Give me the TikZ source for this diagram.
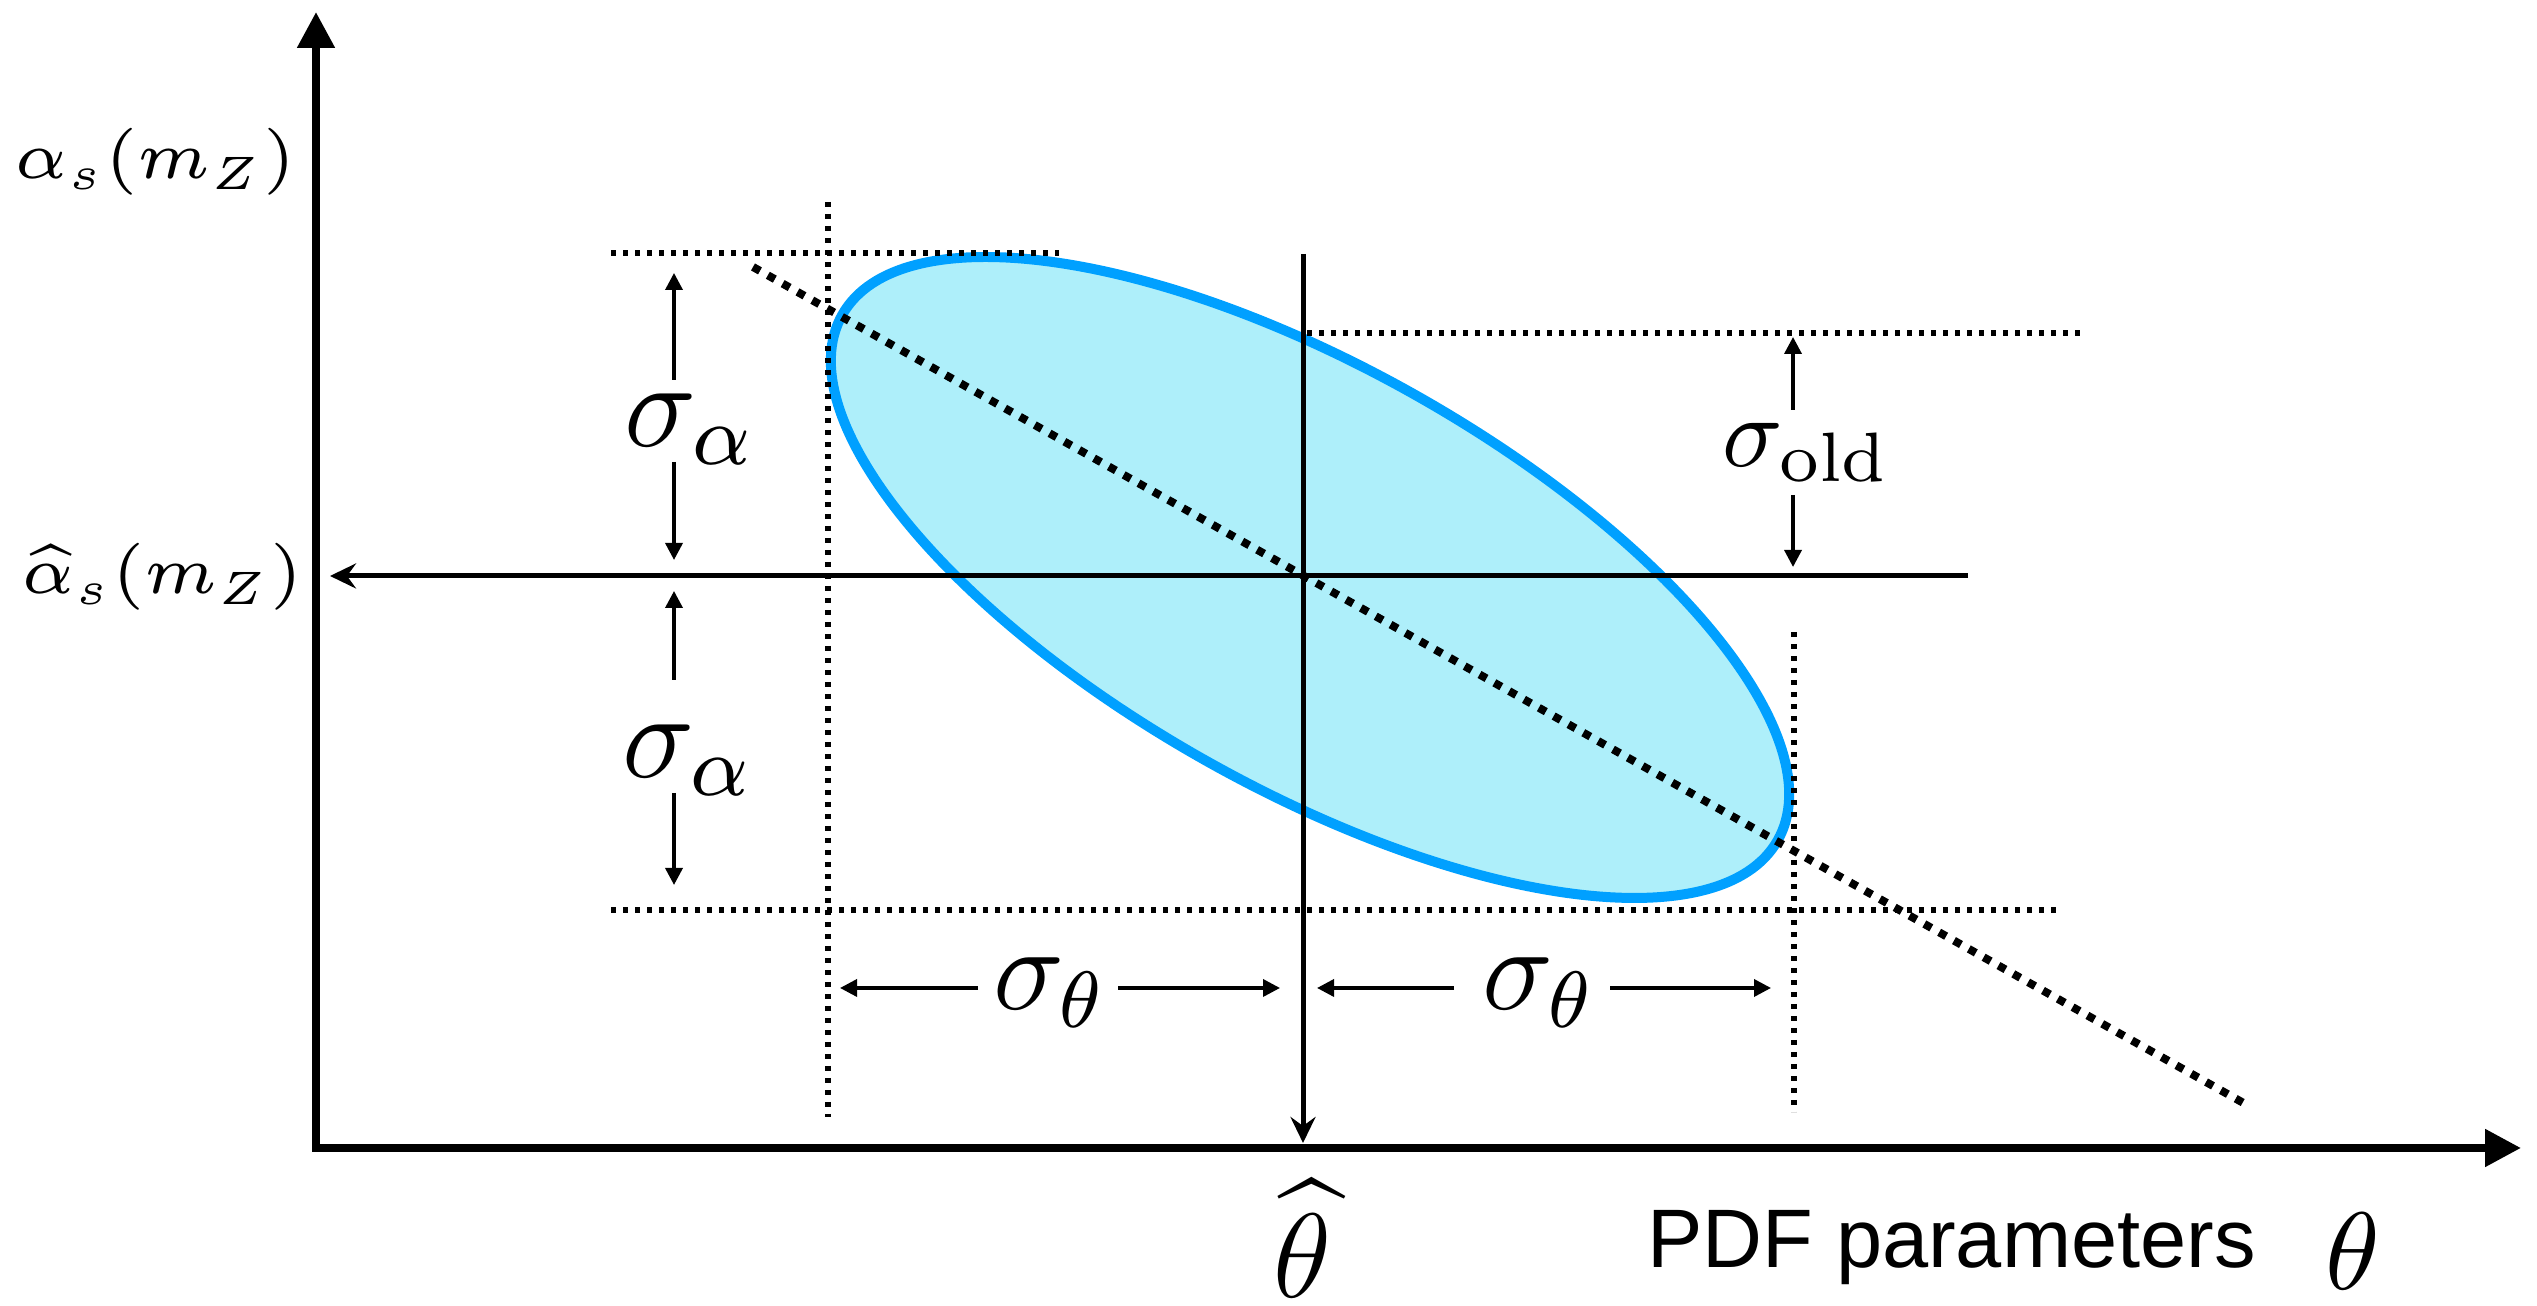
\RequirePackage{fix-cm}
\documentclass[tikz,border=0pt]{standalone}
\usepackage{amsmath,amssymb}
\usepackage{fontspec}
\newfontfamily\lblsans{Liberation Sans}
\usepackage{tikz}
\usetikzlibrary{positioning,arrows.meta,calc}
\definecolor{ellblue}{RGB}{0,160,255}
\definecolor{ellfill}{RGB}{174,239,250}
\tikzset{
  axln/.style={line width=0.8pt,-{Triangle[length=3.6pt,width=3.6pt]}},
  refln/.style={line width=0.5pt,-{Stealth[length=2.6pt,width=2.5pt,inset=0.9pt]}},
  guide/.style={line width=0.55pt,dash pattern=on 0.5pt off 0.7pt},    % thin dotted
  corrln/.style={line width=0.8pt,dash pattern=on 0.8pt off 0.9pt},    % correlation line
  errarr/.style={line width=0.35pt,-{Triangle[length=1.7pt,width=1.7pt]}},
  cl/.style={draw=ellblue,fill=ellfill,line width=1pt},                % confidence ellipse
  axlbl/.style={font=\fontsize{6.7}{8}\selectfont,inner sep=0pt},
  siglbl/.style={font=\fontsize{12.2}{14}\selectfont,inner sep=0pt},
  oldlbl/.style={font=\fontsize{10}{12}\selectfont,inner sep=0pt},
  thlbl/.style={font=\fontsize{12}{14}\selectfont,inner sep=0pt,anchor=base},
}

\begin{document}
\begin{tikzpicture}[x=10pt,y=10pt]
  \useasboundingbox (-3.16,-1.58) rectangle (22.21,11.48);
  \coordinate (O) at (0,0);
  \coordinate (C) at (9.87,5.72);
  % ellipse
  \draw[cl] (9.94,5.705) circle[x radius=53.65pt,y radius=21.07pt,rotate=-29.3];
  % guide lines
  \draw[guide] (2.95,8.95) -- (7.43,8.95);
  \draw[guide] (5.12,9.46) -- (5.12,0.31);
  \draw[guide] (9.91,8.15) -- (17.70,8.15);
  \draw[guide] (14.78,5.16) -- (14.78,0.36);
  \draw[guide] (2.95,2.38) -- (17.42,2.38);
  \draw[corrln] (4.37,8.81) -- (19.31,0.43);
  % best fit lines
  \draw[refln] (C -| 16.52,0) -- (C -| 0.14,0);
  \draw[refln] (C |- 0,8.94) -- (C |- 0,0.05);
  % axes
  \draw[axln] (-0.04,0) -- (22.05,0);
  \draw[axln] (0,-0.04) -- (0,11.36);
  \node[axlbl] (amz) at (-1.61,9.86) {$\alpha_s(m_Z)$};
  \node[axlbl] (ahat) at (-1.54,5.71) {$\widehat{\alpha}_s(m_Z)$};
  \node[thlbl] (thhat) at (9.86,-1.50) {$\widehat{\theta}$};
  \node[font=\lblsans\fontsize{8.3}{10}\selectfont,inner sep=0pt,anchor=base west] (pdf) at (13.29,-1.20) {PDF parameters};
  \node[thlbl,font=\fontsize{11}{13}\selectfont] (th) at (20.37,-1.42) {$\theta$};
  % sigma_alpha
  \node[siglbl] (sa1) at (3.74,7.19) {$\sigma_\alpha$};
  \node[siglbl] (sa2) at (3.72,3.88) {$\sigma_\alpha$};
  \draw[errarr] (3.58,7.68) -- (3.58,8.75);
  \draw[errarr] (3.58,6.86) -- (3.58,5.88);
  \draw[errarr] (3.58,4.68) -- (3.58,5.57);
  \draw[errarr] (3.58,3.55) -- (3.58,2.63);
  % sigma_old
  \node[oldlbl] (sold) at (14.905,6.955) {$\sigma_{\mathrm{old}}$};
  \draw[errarr] (14.77,7.38) -- (14.77,8.11);
  \draw[errarr] (14.77,6.53) -- (14.77,5.81);
  % sigma_theta
  \node[siglbl,font=\fontsize{12}{14}\selectfont] (st1) at (7.34,1.55) {$\sigma_\theta$};
  \node[siglbl,font=\fontsize{12}{14}\selectfont] (st2) at (12.23,1.55) {$\sigma_\theta$};
  \draw[errarr] (6.62,1.60) -- (5.24,1.60);
  \draw[errarr] (8.02,1.60) -- (9.64,1.60);
  \draw[errarr] (11.38,1.60) -- (10.01,1.60);
  \draw[errarr] (12.94,1.60) -- (14.55,1.60);
\end{tikzpicture}
\end{document}
